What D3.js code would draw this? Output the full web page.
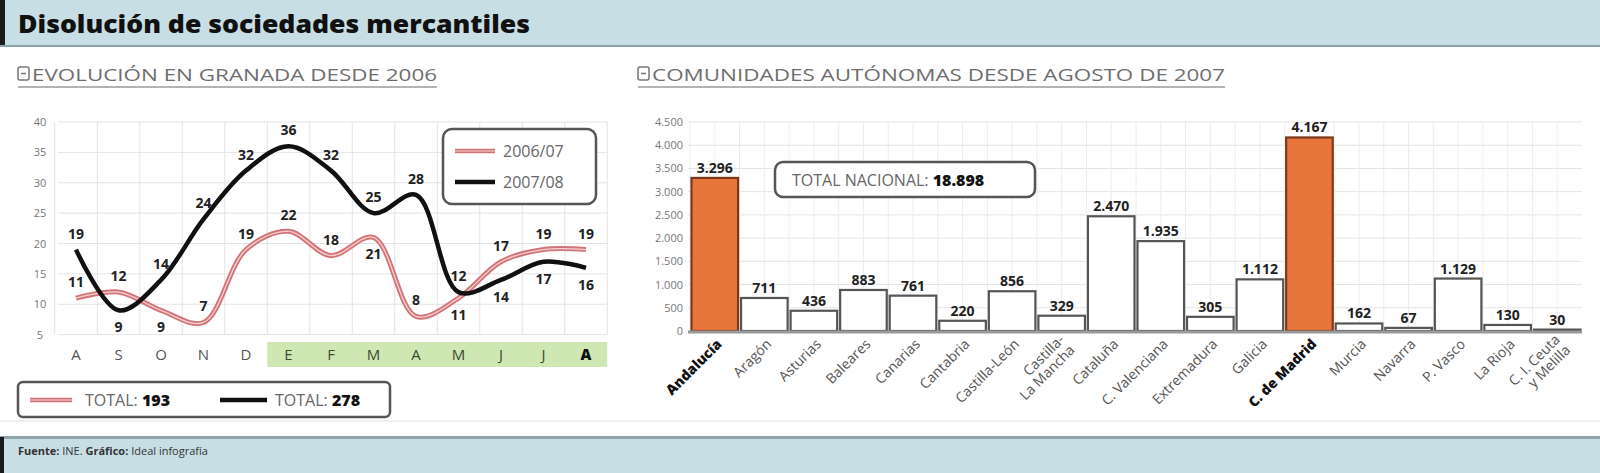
<!DOCTYPE html>
<html><head><meta charset="utf-8">
<script src="https://cdn.jsdelivr.net/npm/d3@7/dist/d3.min.js"></script>
<style>
html,body{margin:0;padding:0;background:#fff;}
svg{display:block;font-family:"Open Sans","Noto Sans",sans-serif;}
</style></head>
<body>
<svg id="c" width="1600" height="473"></svg>
<script>
// ---------- DATA ----------
const months = ["A","S","O","N","D","E","F","M","A","M","J","J","A"];
const series0607 = [11,12,9,7,19,22,18,21,8,11,17,19,19];
const series0708 = [19,9,14,24,32,36,32,25,28,12,14,17,16];
const place0607 = ["a","a","b","a","a","a","a","b","a","b","a","a","a"];
const place0708 = ["a","b","a","a","a","a","a","a","a","a","b","b","b"];
const seriesNames = ["2006/07","2007/08"];
const totals = ["193","278"];
const leftTicks = [5,10,15,20,25,30,35,40];

const regions = ["Andalucía","Aragón","Asturias","Baleares","Canarias","Cantabria","Castilla-León","Castilla-|La Mancha","Cataluña","C. Valenciana","Extremadura","Galicia","C. de Madrid","Murcia","Navarra","P. Vasco","La Rioja","C. I. Ceuta|y Melilla"];
const regionValues = [3296,711,436,883,761,220,856,329,2470,1935,305,1112,4167,162,67,1129,130,30];
const highlighted = ["Andalucía","C. de Madrid"];
const rightTicks = [0,500,1000,1500,2000,2500,3000,3500,4000,4500];
const totalNacional = "18.898";

// ---------- SETUP ----------
const svg = d3.select("#c");
const loc = d3.formatLocale({decimal:",",thousands:".",grouping:[3],currency:["",""]});
const fmt = loc.format(",d");
const ORANGE = "#e8763a", RED = "#d27579", BLUE = "#c8dee5";

// header
svg.append("rect").attr("x",0).attr("y",0).attr("width",1600).attr("height",46).attr("fill",BLUE);
svg.append("rect").attr("x",0).attr("y",0).attr("width",5).attr("height",46).attr("fill",'#1a1a1a');
svg.append("rect").attr("x",0).attr("y",45).attr("width",1600).attr("height",2).attr("fill","#8fa3aa");
svg.append("text").attr("x",18).attr("y",33).attr("font-size",25).attr("font-weight",800)
  .attr("fill","#111").attr("textLength",512).attr("lengthAdjust","spacingAndGlyphs")
  .text("Disolución de sociedades mercantiles");

// footer
svg.append("rect").attr("x",0).attr("y",437).attr("width",1600).attr("height",36).attr("fill",BLUE);
svg.append("rect").attr("x",0).attr("y",436).attr("width",1600).attr("height",3).attr("fill","#8fa3aa");
svg.append("rect").attr("x",0).attr("y",437).attr("width",4).attr("height",36).attr("fill","#1a1a1a");
const ft = svg.append("text").attr("x",18).attr("y",455).attr("font-size",11).attr("fill","#333");
ft.append("tspan").attr("font-weight",700).text("Fuente: ");
ft.append("tspan").text("INE. ");
ft.append("tspan").attr("font-weight",700).text("Gráfico: ");
ft.append("tspan").text("Ideal infografía");
svg.append("line").attr("x1",0).attr("x2",1600).attr("y1",421).attr("y2",421).attr("stroke","#eadede").attr("stroke-width",1);

// subtitles
function subtitle(x, x2, txt){
  const g = svg.append("g");
  g.append("rect").attr("x",x).attr("y",67).attr("width",11).attr("height",13).attr("fill","none").attr("stroke","#777").attr("stroke-width",1.5).attr("rx",2);
  g.append("line").attr("x1",x+3).attr("x2",x+8).attr("y1",73.5).attr("y2",73.5).attr("stroke","#777").attr("stroke-width",1.5);
  g.append("text").attr("x",x+14).attr("y",81).attr("font-size",16).attr("fill","#6e6e6e")
    .attr("textLength",x2-x-14).attr("lengthAdjust","spacingAndGlyphs").text(txt);
  g.append("line").attr("x1",x).attr("x2",x2).attr("y1",87).attr("y2",87).attr("stroke","#9a9a9a").attr("stroke-width",1.5);
}
subtitle(18, 437, "EVOLUCIÓN EN GRANADA DESDE 2006");
subtitle(638, 1225, "COMUNIDADES AUTÓNOMAS DESDE AGOSTO DE 2007");

// ---------- LEFT CHART ----------
const xL = d3.scalePoint().domain(d3.range(months.length)).range([76,586]);
const stepL = xL.step();
const yL = d3.scaleLinear().domain([0,40]).range([365,122]);
const gL = svg.append("g");
const leftX0 = xL(0)-stepL/2, leftX1 = xL(months.length-1)+stepL/2;
// green band
gL.append("rect").attr("x",xL(5)-stepL/2).attr("y",342).attr("width",leftX1 - (xL(5)-stepL/2)).attr("height",25).attr("fill","#cfe7b2");
// grid
gL.selectAll("line.h").data(leftTicks).join("line")
  .attr("x1",58).attr("x2",leftX1).attr("y1",d=>yL(d)).attr("y2",d=>yL(d))
  .attr("stroke","#e4e4e4").attr("stroke-width",1);
gL.selectAll("line.v").data(d3.range(months.length+1)).join("line")
  .attr("x1",i=>leftX0+i*stepL).attr("x2",i=>leftX0+i*stepL).attr("y1",yL(40)).attr("y2",yL(5))
  .attr("stroke","#e4e4e4").attr("stroke-width",1);
gL.selectAll("text.yt").data(leftTicks).join("text")
  .attr("x",40).attr("y",d=>yL(d)+4).attr("text-anchor","middle").attr("font-size",11).attr("fill","#777").text(d=>d);
gL.selectAll("text.xm").data(months).join("text")
  .attr("x",(d,i)=>xL(i)).attr("y",360).attr("text-anchor","middle").attr("font-size",15)
  .attr("font-weight",(d,i)=>i===months.length-1?800:400)
  .attr("fill",(d,i)=>i===months.length-1?"#111":(i>=5?"#3b4a30":"#555")).text(d=>d);

const line = d3.line().x((d,i)=>xL(i)).y(d=>yL(d)).curve(d3.curveCatmullRom.alpha(0.5));
gL.append("path").attr("d",line(series0607)).attr("fill","none").attr("stroke",RED).attr("stroke-width",5).attr("stroke-linejoin","round");
gL.append("path").attr("d",line(series0607)).attr("fill","none").attr("stroke","#f5d0d0").attr("stroke-width",1.3).attr("stroke-linejoin","round");
gL.append("path").attr("d",line(series0708)).attr("fill","none").attr("stroke","#111").attr("stroke-width",4.5).attr("stroke-linejoin","round");

function ptLabels(vals, place){
  gL.append("g").selectAll("text").data(vals).join("text")
    .attr("x",(d,i)=>xL(i)).attr("y",(d,i)=>yL(d) + (place[i]==="a" ? -11 : 22))
    .attr("text-anchor","middle").attr("font-size",14).attr("font-weight",700).attr("fill","#222")
    .text(d=>d);
}
ptLabels(series0607, place0607);
ptLabels(series0708, place0708);

// legend (inside)
const lg = gL.append("g");
lg.append("rect").attr("x",443).attr("y",129).attr("width",153).attr("height",75).attr("rx",9)
  .attr("fill","#fff").attr("stroke","#555").attr("stroke-width",2.5);
[RED,"#111"].forEach((c,i)=>{
  const y = 151 + i*31;
  lg.append("line").attr("x1",455).attr("x2",495).attr("y1",y).attr("y2",y).attr("stroke",c).attr("stroke-width",4.5);
  if(i===0) lg.append("line").attr("x1",455).attr("x2",495).attr("y1",y).attr("y2",y).attr("stroke","#f5d0d0").attr("stroke-width",1.2);
  lg.append("text").attr("x",503).attr("y",y+6).attr("font-size",16).attr("fill","#666").text(seriesNames[i]);
});
// totals legend
const tg = svg.append("g");
tg.append("rect").attr("x",18).attr("y",382).attr("width",372).attr("height",35).attr("rx",5)
  .attr("fill","#fff").attr("stroke","#555").attr("stroke-width",2.5);
[[30,72,85,RED],[220,267,275,"#111"]].forEach((p,i)=>{
  tg.append("line").attr("x1",p[0]).attr("x2",p[1]).attr("y1",400).attr("y2",400).attr("stroke",p[3]).attr("stroke-width",4.5);
  if(i===0) tg.append("line").attr("x1",p[0]).attr("x2",p[1]).attr("y1",400).attr("y2",400).attr("stroke","#f5d0d0").attr("stroke-width",1.2);
  const t = tg.append("text").attr("x",p[2]).attr("y",406).attr("font-size",16).attr("fill","#666");
  t.append("tspan").text("TOTAL: ");
  t.append("tspan").attr("font-weight",800).attr("fill","#111").text(totals[i]);
});

// ---------- RIGHT CHART ----------
const xR = d3.scaleBand().domain(regions).range([690,1582]).paddingInner(0.06).paddingOuter(0.03);
const yR = d3.scaleLinear().domain([0,4500]).range([331,122]);
const gR = svg.append("g");
gR.selectAll("line.h").data(rightTicks).join("line")
  .attr("x1",688).attr("x2",1582).attr("y1",d=>yR(d)).attr("y2",d=>yR(d))
  .attr("stroke","#e4e4e4").attr("stroke-width",1);
gR.selectAll("line.v").data(regions).join("line")
  .attr("x1",d=>xR(d)+xR.bandwidth()/2).attr("x2",d=>xR(d)+xR.bandwidth()/2)
  .attr("y1",yR(4500)).attr("y2",yR(0)).attr("stroke","#ececec").attr("stroke-width",1);
gR.selectAll("line.v2").data(regions).join("line")
  .attr("x1",d=>xR(d)-xR.step()*xR.paddingInner()/2).attr("x2",d=>xR(d)-xR.step()*xR.paddingInner()/2)
  .attr("y1",yR(4500)).attr("y2",yR(0)).attr("stroke","#ececec").attr("stroke-width",1);
gR.selectAll("text.yt").data(rightTicks).join("text")
  .attr("x",683).attr("y",d=>yR(d)+4).attr("text-anchor","end").attr("font-size",11).attr("fill","#777").text(d=>fmt(d));

gR.selectAll("rect.bar").data(regions).join("rect")
  .attr("x",d=>xR(d)).attr("width",xR.bandwidth())
  .attr("y",(d,i)=>yR(regionValues[i])).attr("height",(d,i)=>yR(0)-yR(regionValues[i]))
  .attr("fill",d=>highlighted.includes(d)?ORANGE:"#fff")
  .attr("stroke",d=>highlighted.includes(d)?"#7a3a1a":"#555").attr("stroke-width",2.2);
gR.append("line").attr("x1",688).attr("x2",1582).attr("y1",yR(0)+1).attr("y2",yR(0)+1).attr("stroke","#999").attr("stroke-width",3);

gR.selectAll("text.val").data(regions).join("text")
  .attr("x",d=>xR(d)+xR.bandwidth()/2).attr("y",(d,i)=>yR(regionValues[i])-5)
  .attr("text-anchor","middle").attr("font-size",14).attr("font-weight",700).attr("fill","#222")
  .text((d,i)=>fmt(regionValues[i]));

// x labels
const xl = gR.selectAll("text.xl").data(regions).join("text")
  .attr("transform",d=>`translate(${xR(d)+xR.bandwidth()/2+8},${yR(0)+14}) rotate(-45)`)
  .attr("text-anchor","end").attr("font-size",14)
  .attr("font-weight",d=>highlighted.includes(d)?800:400)
  .attr("fill",d=>highlighted.includes(d)?"#111":"#555");
xl.each(function(d){
  const parts = d.split("|");
  const t = d3.select(this);
  if(parts.length===1){ t.text(d); }
  else {
    t.append("tspan").attr("x",0).attr("dy","-0.45em").text(parts[0]);
    t.append("tspan").attr("x",0).attr("dy","1.05em").text(parts[1]);
  }
});

// total box
const bx = gR.append("g");
bx.append("rect").attr("x",775).attr("y",162).attr("width",260).attr("height",35).attr("rx",8)
  .attr("fill","#fff").attr("stroke","#555").attr("stroke-width",2.5);
const tt = bx.append("text").attr("x",792).attr("y",186).attr("font-size",16).attr("fill","#666");
tt.append("tspan").text("TOTAL NACIONAL: ");
tt.append("tspan").attr("font-weight",800).attr("fill","#111").text(totalNacional);
</script>
</body></html>
